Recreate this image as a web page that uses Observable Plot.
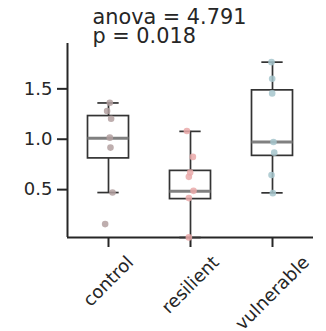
<!DOCTYPE html>
<html>
<head>
<meta charset="utf-8">
<script src="https://cdn.jsdelivr.net/npm/d3@7"></script>
<script src="https://cdn.jsdelivr.net/npm/@observablehq/plot@0.6"></script>
<style>
  html, body { margin: 0; padding: 0; background: white; }
</style>
</head>
<body>
<div id="chart"></div>
<script>
// ---- data ----
const categories = ["control", "resilient", "vulnerable"];
const pointColors = ["#b3a0a0", "#eaa9a9", "#a6c6cd"];

// stripplot points (value) and horizontal jitter (fraction of a category step)
const controlValues    = [1.362, 1.280, 1.204, 1.016, 0.917, 0.471, 0.158];
const controlJitter    = [0.016, -0.017, 0.032, 0.016, 0.024, 0.049, -0.041];
const resilientValues  = [1.082, 0.825, 0.669, 0.627, 0.488, 0.416, 0.026];
const resilientJitter  = [-0.044, 0.029, -0.004, -0.020, 0.037, -0.020, -0.020];
const vulnerableValues = [1.765, 1.600, 1.455, 0.973, 0.867, 0.644, 0.465];
const vulnerableJitter = [-0.012, -0.004, -0.004, 0.012, 0.021, -0.012, 0.004];

// box statistics
const whiskerLow  = [0.471, 0.025, 0.468];
const q1          = [0.810, 0.406, 0.835];
const median      = [1.010, 0.485, 0.973];
const q3          = [1.230, 0.686, 1.485];
const whiskerHigh = [1.360, 1.078, 1.765];

const yTicks = [0.5, 1.0, 1.5];
const yDomain = [0.025, 1.95];
const titleLines = ["anova = 4.791", "p = 0.018"];

// ---- build tables ----
const groups = [controlValues, resilientValues, vulnerableValues];
const jitters = [controlJitter, resilientJitter, vulnerableJitter];
const points = [];
groups.forEach((vals, i) => vals.forEach((v, j) => points.push({i, x: i + jitters[i][j], y: v})));
const boxes = categories.map((c, i) => ({i, lo: whiskerLow[i], q1: q1[i], med: median[i], q3: q3[i], hi: whiskerHigh[i]}));

const font = "DejaVu Sans";
const ink = "#262626";
const tickFont = 18;
const titleFont = 20.8;
const boxHalf = 0.25, capHalf = 0.13;

// measure label widths for matplotlib-like rotated label placement
const ctx = document.createElement("canvas").getContext("2d");
ctx.font = `${tickFont}px "${font}"`;
const lineH = tickFont * 1.164;
const labelMarks = categories.map((c, i) => {
  const w = ctx.measureText(c).width;
  const dy = 14.5 + (w + lineH) * Math.SQRT1_2 / 2;
  return Plot.text([c], {x: () => i, frameAnchor: "bottom", dy, rotate: -45,
    textAnchor: "middle", lineAnchor: "middle", fontSize: tickFont, fill: ink});
});

const chart = Plot.plot({
  width: 326,
  height: 331,
  marginLeft: 67,
  marginRight: 13,
  marginTop: 43,
  marginBottom: 94,
  style: {fontFamily: font, fontSize: tickFont + "px", color: ink, background: "white"},
  x: {type: "linear", domain: [-0.5, 2.5], axis: null},
  y: {domain: yDomain, axis: null},
  marks: [
    // axes
    Plot.axisY({ticks: yTicks, tickFormat: d3.format(".1f"), tickSize: 10, tickPadding: 5,
      strokeWidth: 2, stroke: ink, fill: ink, fontSize: tickFont, label: null}),
    Plot.axisX({ticks: [0, 1, 2], tickFormat: () => "", tickSize: 10, strokeWidth: 2, stroke: ink, label: null}),
    Plot.ruleX([-0.5], {stroke: ink, strokeWidth: 2}),
    Plot.ruleY([yDomain[0]], {stroke: ink, strokeWidth: 2}),
    ...labelMarks,
    // whiskers
    Plot.ruleX(boxes, {x: "i", y1: "q3", y2: "hi", stroke: "#333", strokeWidth: 1.7}),
    Plot.ruleX(boxes, {x: "i", y1: "q1", y2: "lo", stroke: "#333", strokeWidth: 1.7}),
    Plot.ruleY(boxes, {y: "hi", x1: d => d.i - capHalf, x2: d => d.i + capHalf, stroke: "#333", strokeWidth: 1.7}),
    Plot.ruleY(boxes, {y: "lo", x1: d => d.i - capHalf, x2: d => d.i + capHalf, stroke: "#333", strokeWidth: 1.7}),
    // boxes
    Plot.rect(boxes, {x1: d => d.i - boxHalf, x2: d => d.i + boxHalf, y1: "q1", y2: "q3",
      fill: "white", stroke: "#333", strokeWidth: 1.7}),
    Plot.ruleY(boxes, {y: "med", x1: d => d.i - boxHalf, x2: d => d.i + boxHalf, stroke: "#808080", strokeWidth: 3}),
    // points
    Plot.dot(points, {x: "x", y: "y", r: 3.3, fill: d => pointColors[d.i], fillOpacity: 0.85, stroke: "none"}),
    // title
    Plot.text([titleLines.join("\n")], {frameAnchor: "top-left", dx: 25, dy: -0.3,
      textAnchor: "start", lineAnchor: "bottom", lineHeight: 0.9, fontSize: titleFont, fill: ink})
  ]
});
document.getElementById("chart").append(chart);
</script>
</body>
</html>
